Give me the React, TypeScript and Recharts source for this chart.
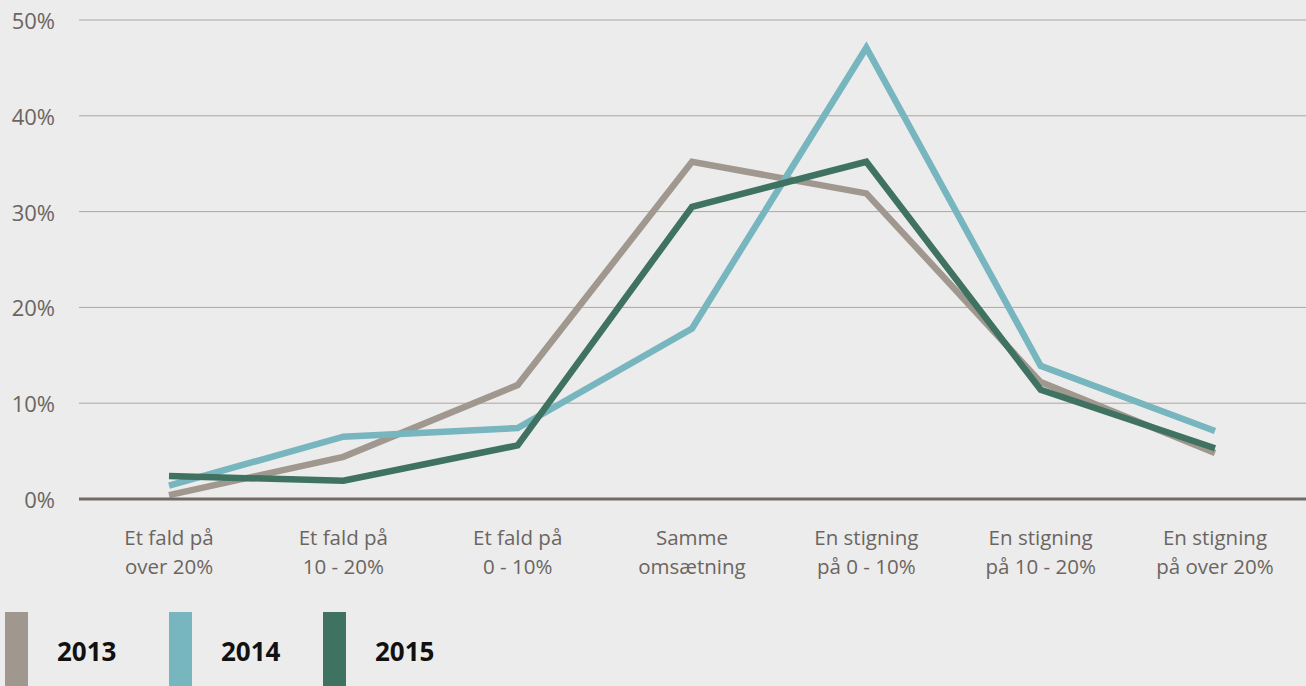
import React from 'react';
import { LineChart, Line, XAxis, YAxis, CartesianGrid } from 'recharts';

// Udvikling i omsætning, andel af virksomheder (%)
const categories = [
  'Et fald på\nover 20%',
  'Et fald på\n10 - 20%',
  'Et fald på\n0 - 10%',
  'Samme\nomsætning',
  'En stigning\npå 0 - 10%',
  'En stigning\npå 10 - 20%',
  'En stigning\npå over 20%',
];
const values2013 = [0.4, 4.4, 11.9, 35.2, 31.9, 12.2, 4.8];
const values2014 = [1.4, 6.5, 7.4, 17.8, 47.1, 13.9, 7.1];
const values2015 = [2.4, 1.9, 5.6, 30.5, 35.2, 11.4, 5.3];
const yTicks = [0, 10, 20, 30, 40, 50];

const series = [
  { key: 'y2013', label: '2013', color: '#a0978e' },
  { key: 'y2014', label: '2014', color: '#77b5bf' },
  { key: 'y2015', label: '2015', color: '#3f7261' },
];

const data = categories.map((name, i) => ({
  name,
  y2013: values2013[i],
  y2014: values2014[i],
  y2015: values2015[i],
}));

const FONT = '"Open Sans", "Noto Sans", sans-serif';
const TEXT = '#6b6561';

const XTick = (props: any) => {
  const { x, y, payload } = props;
  const lines = String(payload.value).split('\n');
  return (
    <g>
      {lines.map((line: string, i: number) => (
        <text
          key={i}
          x={x}
          y={y + 46 + i * 29}
          textAnchor="middle"
          fill={TEXT}
          fontSize={20.5}
          fontFamily={FONT}
        >
          {line}
        </text>
      ))}
    </g>
  );
};

const YTick = (props: any) => {
  const { x, y, payload } = props;
  return (
    <text
      x={x - 24}
      y={y}
      textAnchor="end"
      dominantBaseline="central"
      fill={TEXT}
      fontSize={22}
      fontFamily={FONT}
    >
      {`${payload.value}%`}
    </text>
  );
};

const legendPos = [5, 169, 323];

export default function App() {
  return (
    <div
      style={{
        position: 'absolute',
        left: 0,
        top: 0,
        width: 1306,
        height: 686,
        background: '#ececec',
        overflow: 'hidden',
      }}
    >
      <LineChart
        width={1306}
        height={612}
        data={data}
        margin={{ top: 20, right: 0, left: 0, bottom: 23 }}
      >
        <CartesianGrid vertical={false} stroke="#b0a69d" strokeWidth={1} />
        <XAxis
          dataKey="name"
          scale="point"
          padding={{ left: 90, right: 91 }}
          height={90}
          tickSize={0}
          tickMargin={0}
          tickLine={false}
          axisLine={{ stroke: '#716a66', strokeWidth: 3 }}
          tick={<XTick />}
          interval={0}
        />
        <YAxis
          width={79}
          domain={[0, 50]}
          ticks={yTicks}
          tickSize={0}
          tickMargin={0}
          tickLine={false}
          axisLine={false}
          tick={<YTick />}
        />
        {series.map((s) => (
          <Line
            key={s.key}
            type="linear"
            dataKey={s.key}
            stroke={s.color}
            strokeWidth={6.5}
            strokeLinejoin="miter"
            dot={false}
            activeDot={false}
            isAnimationActive={false}
          />
        ))}
      </LineChart>
      {series.map((s, i) => (
        <div key={s.key}>
          <div
            style={{
              position: 'absolute',
              left: legendPos[i],
              top: 612,
              width: 23,
              height: 74,
              background: s.color,
            }}
          />
          <div
            style={{
              position: 'absolute',
              left: legendPos[i] + 52,
              top: 634,
              fontFamily: FONT,
              fontWeight: 700,
              fontSize: 26,
              lineHeight: '34px',
              color: '#111',
            }}
          >
            {s.label}
          </div>
        </div>
      ))}
    </div>
  );
}
